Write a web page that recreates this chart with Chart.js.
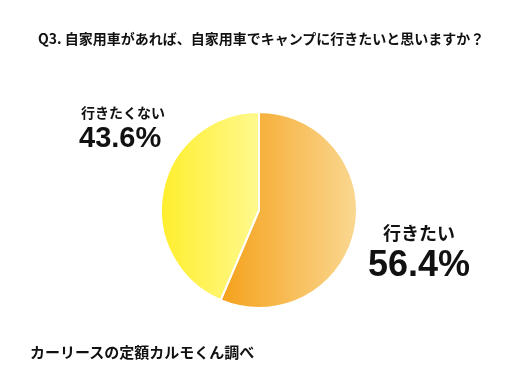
<!DOCTYPE html>
<html lang="ja">
  <head>
    <meta charset="UTF-8" />
    <title>Q3</title>
    <style>
      * {
        margin: 0;
        padding: 0;
      }
      body {
        width: 518px;
        height: 378px;
        background: white;
        position: relative;
        overflow: hidden;
        font-family: "Noto Sans CJK JP", sans-serif;
        color: #111;
      }
      .title {
        position: absolute;
        left: 38px;
        top: 28px;
        font-size: 14px;
        font-weight: bold;
        line-height: 20px;
        white-space: nowrap;
      }
      .source {
        position: absolute;
        left: 30px;
        top: 342px;
        font-size: 15px;
        font-weight: bold;
        line-height: 20px;
        white-space: nowrap;
      }
      canvas {
        position: absolute;
        left: 0;
        top: 0;
      }
    </style>
  </head>
  <body>
    <canvas id="myChart" width="518" height="378"></canvas>
    <div class="title">Q3. 自家用車があれば、自家用車でキャンプに行きたいと思いますか？</div>
    <div class="source">カーリースの定額カルモくん調べ</div>

    <script src="https://cdn.jsdelivr.net/npm/chart.js"></script>
    <script>
      const labels = ["行きたい", "行きたくない"];
      const values = [56.4, 43.6];

      // gradient stops per slice (left -> right)
      const colorStops = [
        ["#f5a11b", "#fad892"],
        ["#ffee2c", "#fff98e"],
      ];

      // label blocks: name line and percentage line
      const labelPos = [
        { x: 383, y: 233, nameSize: 18, valX: 368, valY: 266, valSize: 36 },
        { x: 81, y: 113, nameSize: 14, valX: 79, valY: 139, valSize: 29 },
      ];

      const total = values.reduce((a, b) => a + b, 0);

      const sliceGradient = (ctx) => {
        const chart = ctx.chart;
        const area = chart.chartArea;
        if (!area) return colorStops[ctx.dataIndex][0];
        const cx = (area.left + area.right) / 2;
        const r = Math.min(area.right - area.left, area.bottom - area.top) / 2;
        let start = 0;
        for (let i = 0; i < ctx.dataIndex; i++) start += values[i] / total;
        const end = start + values[ctx.dataIndex] / total;
        let minX = cx, maxX = cx;
        for (let k = 0; k <= 100; k++) {
          const a = (start + (end - start) * (k / 100)) * Math.PI * 2;
          const x = cx + r * Math.sin(a);
          minX = Math.min(minX, x);
          maxX = Math.max(maxX, x);
        }
        const g = chart.ctx.createLinearGradient(minX, 0, maxX, 0);
        g.addColorStop(0, colorStops[ctx.dataIndex][0]);
        g.addColorStop(1, colorStops[ctx.dataIndex][1]);
        return g;
      };

      const sliceLabels = {
        id: "sliceLabels",
        afterDraw(chart) {
          const c = chart.ctx;
          c.save();
          c.fillStyle = "#111";
          c.textBaseline = "middle";
          c.textAlign = "left";
          labels.forEach((name, i) => {
            const p = labelPos[i];
            c.font = "bold " + p.nameSize + "px 'Noto Sans CJK JP'";
            c.fillText(name, p.x, p.y);
            c.font = "bold " + p.valSize + "px 'Liberation Sans', Arial, sans-serif";
            c.fillText(values[i].toFixed(1) + "%", p.valX, p.valY);
          });
          c.restore();
        },
      };

      const ctx = document.getElementById("myChart");
      const myChart = new Chart(ctx, {
        type: "pie",
        data: {
          labels: labels,
          datasets: [
            {
              data: values,
              backgroundColor: sliceGradient,
              borderColor: "#ffffff",
              borderWidth: 2,
            },
          ],
        },
        options: {
          responsive: false,
          animation: false,
          layout: {
            padding: { top: 111, bottom: 69, left: 160, right: 160 },
          },
          plugins: {
            legend: { display: false },
            tooltip: { enabled: false },
          },
        },
        plugins: [sliceLabels],
      });
    </script>
  </body>
</html>
